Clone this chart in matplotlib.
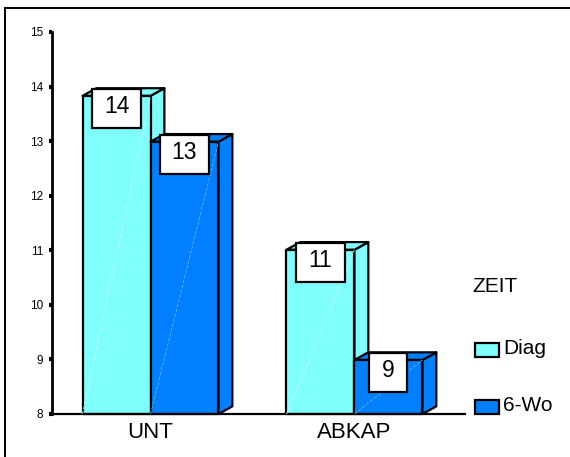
import matplotlib
matplotlib.use("Agg")
import matplotlib.pyplot as plt
from matplotlib.patches import Polygon, Rectangle
from matplotlib.lines import Line2D
from matplotlib.transforms import ScaledTranslation

plt.rcParams['font.family'] = ['Liberation Sans', 'DejaVu Sans']

# Daten
gruppen = ['UNT', 'ABKAP']
zeiten = ['Diag', '6-Wo']
werte_diag = [13.83, 11.01]
werte_6wo = [12.99, 8.99]
farben = ['#80FFFF', '#0080FF']
streifen = ['#C8FFFF', '#66B3FF']

basis = 8
breite = 1 / 3.0
tiefe_x = 0.068
tiefe_y = 0.14

fig = plt.figure(figsize=(5.70, 4.57), dpi=100)
ax = fig.add_axes([52 / 570, 43 / 457, 413 / 570, 382 / 457])


def balken3d(x0, wert, farbe, hell):
    x1 = x0 + breite
    kw = dict(facecolor=farbe, edgecolor='black', linewidth=1.6, joinstyle='round')
    front = Polygon([(x0, basis), (x1, basis), (x1, wert), (x0, wert)], **kw)
    oben = Polygon([(x0, wert), (x1, wert), (x1 + tiefe_x, wert + tiefe_y),
                    (x0 + tiefe_x, wert + tiefe_y)], **kw)
    seite = Polygon([(x1, basis), (x1 + tiefe_x, basis + tiefe_y),
                     (x1 + tiefe_x, wert + tiefe_y), (x1, wert)], **kw)
    for p in (seite, oben, front):
        p.set_clip_on(False)
        ax.add_patch(p)
    # heller Schattierungsstreifen auf der Vorderseite
    ax.plot([x0, x1], [basis, wert], color=hell, lw=0.6, ls=(0, (4, 2)), zorder=3)


def wertkasten(xc, wert):
    text = '%.0f' % wert
    b = (27 + 11 * len(text)) / 100.0
    h = 39 / 100.0
    tr = fig.dpi_scale_trans + ScaledTranslation(xc, wert, ax.transData)
    ax.add_patch(Rectangle((-b / 2, -0.13 - h / 2), b, h, transform=tr,
                           facecolor='white', edgecolor='black', lw=1.6,
                           zorder=5, clip_on=False))
    ax.text(0, -0.11, text, transform=tr, ha='center', va='center',
            fontsize=16.5, zorder=6)


for i, g in enumerate(gruppen):
    x_diag = i - breite
    x_6wo = i
    balken3d(x_diag, werte_diag[i], farben[0], streifen[0])
    balken3d(x_6wo, werte_6wo[i], farben[1], streifen[1])
    wertkasten(x_diag + breite / 2, werte_diag[i])
    wertkasten(x_6wo + breite / 2, werte_6wo[i])

ax.set_xlim(-0.483, 1.542)
ax.set_ylim(8, 15)
ax.set_yticks(range(8, 16))
ax.set_xticks(range(len(gruppen)))
ax.set_xticklabels(gruppen, fontsize=16)
ax.tick_params(axis='x', length=0, pad=6)
ax.tick_params(axis='y', length=2.5, width=3, pad=4, labelsize=8.5)
for s in ('top', 'right'):
    ax.spines[s].set_visible(False)
ax.spines['left'].set_linewidth(2)
ax.spines['bottom'].set_linewidth(1.6)
ax.patch.set_alpha(0)

# Legende
fig.text(472 / 570, 1 - 286 / 457, 'ZEIT', fontsize=15, va='center', ha='left')
for farbe, hell, name, yc in zip(farben, streifen, zeiten, [350, 406.5]):
    fig.patches.append(Rectangle((475 / 570, 1 - (yc + 7) / 457), 24 / 570, 14 / 457,
                                 transform=fig.transFigure, facecolor=farbe,
                                 edgecolor='black', lw=1.6))
    fig.text(503 / 570, 1 - (yc - 1) / 457, name, fontsize=15, va='center', ha='left')

# Rahmen
fig.lines.append(Line2D([5 / 570, 5 / 570], [0, 1 - 8 / 457], transform=fig.transFigure,
                        color='black', lw=1.4))
fig.lines.append(Line2D([5 / 570, 1], [1 - 8 / 457, 1 - 8 / 457], transform=fig.transFigure,
                        color='black', lw=1.4))

fig.savefig('out.png', dpi=100)
